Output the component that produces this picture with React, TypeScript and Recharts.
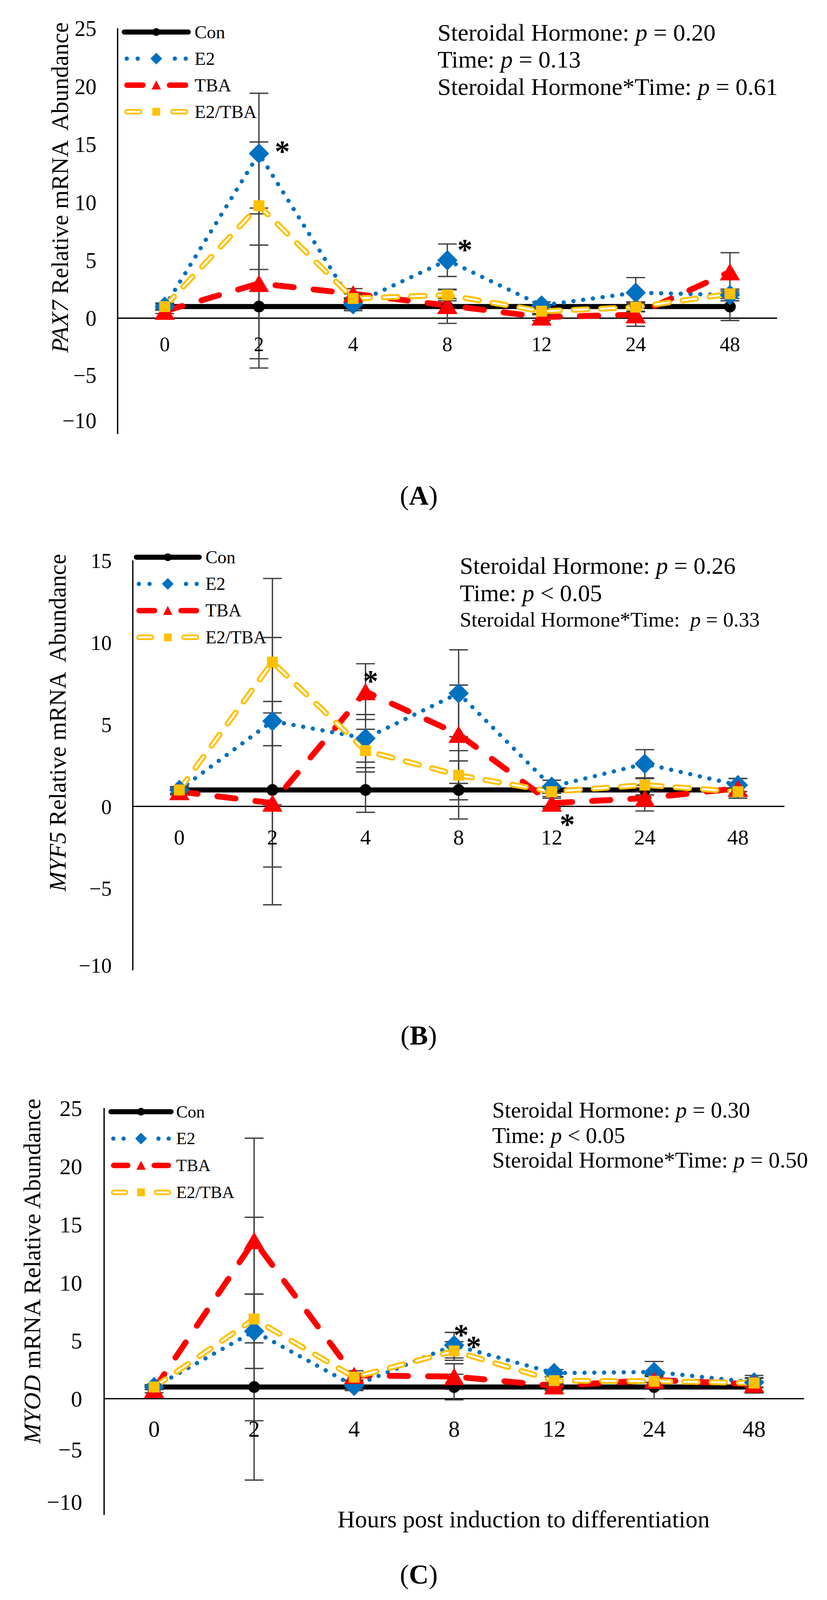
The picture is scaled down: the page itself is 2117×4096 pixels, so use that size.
import React from "react";
import {
  LineChart, Line, XAxis, YAxis, ErrorBar, ReferenceLine, ReferenceDot, Legend,
} from "recharts";

const HOURS = ["0", "2", "4", "8", "12", "24", "48"];

// (A) PAX7
const PAX7_CON = [1, 1, 1, 1, 1, 1, 1];
const PAX7_E2 = [1.0, 14.2, 1.2, 5.0, 1.1, 2.2, 2.0];
const PAX7_TBA = [0.6, 3.0, 2.1, 1.1, 0.1, 0.3, 4.0];
const PAX7_MIX = [1.0, 9.7, 1.7, 2.0, 0.6, 0.95, 2.1];
const PAX7_CON_SE = [0.3, 5.3, 0.2, 1.45, 0.2, 0.4, 1.2];
const PAX7_E2_SE = [0.3, 5.2, 0.55, 1.4, 0.3, 1.3, 0.5];
const PAX7_TBA_SE = [0.2, 6.5, 0.45, 0.6, 0.3, 1.0, 1.65];
const PAX7_MIX_SE = [0.2, 5.5, 0.4, 0.5, 0.3, 0.4, 0.4];
const PAX7_TICKS = [25, 20, 15, 10, 5, 0, -5, -10];
const PAX7_STARS = [{ t: "2", v: 14.6 }, { t: "8", v: 6.1 }];
const PAX7_STATS = [
  ["Steroidal Hormone: ", " = 0.20"],
  ["Time: ", " = 0.13"],
  ["Steroidal Hormone*Time: ", " = 0.61"],
];

// (B) MYF5
const MYF5_CON = [1, 1, 1, 1, 1, 1, 1];
const MYF5_E2 = [1.0, 5.2, 4.15, 6.9, 1.2, 2.6, 1.3];
const MYF5_TBA = [0.9, 0.2, 7.0, 4.4, 0.2, 0.5, 1.1];
const MYF5_MIX = [1.0, 8.8, 3.4, 1.9, 0.9, 1.3, 0.9];
const MYF5_CON_SE = [0.2, 4.7, 1.36, 1.77, 0.2, 0.3, 0.3];
const MYF5_E2_SE = [0.2, 5.1, 1.45, 2.65, 0.4, 0.86, 0.4];
const MYF5_TBA_SE = [0.2, 6.2, 1.7, 3.0, 0.3, 0.78, 0.6];
const MYF5_MIX_SE = [0.2, 5.1, 1.3, 1.5, 0.3, 0.4, 0.4];
const MYF5_TICKS = [15, 10, 5, 0, -5, -10];
const MYF5_STARS = [{ t: "4", v: 7.8 }, { t: "12", v: -0.94 }];
const MYF5_STATS = [
  ["Steroidal Hormone: ", " = 0.26"],
  ["Time: ", " < 0.05"],
  ["Steroidal Hormone*Time:  ", " = 0.33"],
];

// (C) MYOD
const MYOD_CON = [1, 1, 1, 1, 1, 1, 1];
const MYOD_E2 = [1.0, 5.8, 1.1, 4.6, 2.2, 2.3, 1.4];
const MYOD_TBA = [0.8, 13.6, 2.0, 1.9, 1.1, 1.6, 1.25];
const MYOD_MIX = [1.0, 6.85, 1.85, 4.1, 1.55, 1.5, 1.35];
const MYOD_CON_SE = [0.2, 8.0, 0.3, 1.1, 0.3, 1.0, 0.5];
const MYOD_E2_SE = [0.2, 3.2, 0.3, 1.1, 0.3, 0.9, 0.4];
const MYOD_TBA_SE = [0.3, 8.8, 0.4, 1.1, 0.3, 0.5, 0.75];
const MYOD_MIX_SE = [0.2, 8.75, 0.3, 0.8, 0.3, 0.4, 0.4];
const MYOD_TICKS = [25, 20, 15, 10, 5, 0, -5, -10];
const MYOD_STARS = [{ t: "8", v: 5.7 }, { t: "8", v: 4.7 }];
const MYOD_STATS = [
  ["Steroidal Hormone: ", " = 0.30"],
  ["Time: ", " < 0.05"],
  ["Steroidal Hormone*Time: ", " = 0.50"],
];

const SERIES_NAMES = ["Con", "E2", "TBA", "E2/TBA"];

const FONT = "'Liberation Serif', 'Times New Roman', serif";
const W = 2117;
const BLUE = "#0070C0";
const RED = "#FF0000";
const GOLD = "#FFC000";
const BAR = "#404040";

function buildRows(con: number[], e2: number[], tba: number[], mix: number[],
  conSE: number[], e2SE: number[], tbaSE: number[], mixSE: number[]) {
  return HOURS.map((t, i) => ({
    t, con: con[i], e2: e2[i], tba: tba[i], mix: mix[i],
    conSE: conSE[i], e2SE: e2SE[i], tbaSE: tbaSE[i], mixSE: mixSE[i],
  }));
}

const fmtY = (v: number) => (v < 0 ? "\u2212" + Math.abs(v) : String(v));

// marker shapes
const circleDot = (r: number) => (p: any) =>
  <circle key={p.index} cx={p.cx} cy={p.cy} r={r} fill="#000" />;
const diamondDot = (h: number) => (p: any) =>
  <polygon key={p.index} fill={BLUE}
    points={`${p.cx},${p.cy - h} ${p.cx + h},${p.cy} ${p.cx},${p.cy + h} ${p.cx - h},${p.cy}`} />;
const triangleDot = (w: number, h: number) => (p: any) =>
  <polygon key={p.index} fill={RED}
    points={`${p.cx},${p.cy - h / 2} ${p.cx + w / 2},${p.cy + h / 2} ${p.cx - w / 2},${p.cy + h / 2}`} />;
const squareDot = (s: number) => (p: any) =>
  <rect key={p.index} x={p.cx - s / 2} y={p.cy - s / 2} width={s} height={s} fill={GOLD} />;

function LegendBox({ lg }: { lg: any }) {
  const { x1, x2, y0, dy, tx, font } = lg;
  const m = (x1 + x2) / 2;
  const h = (x2 - x1) / 2;
  const ys = [0, 1, 2, 3].map((i) => y0 + i * dy);
  return (
    <svg width={700} height={420} style={{ display: "block", overflow: "visible" }}>
      {/* Con */}
      <line x1={x1} x2={x2} y1={ys[0]} y2={ys[0]} stroke="#000" strokeWidth={13} strokeLinecap="round" />
      <circle cx={m} cy={ys[0]} r={10} fill="#000" />
      {/* E2 */}
      {[-0.92, -0.58, 0.58, 0.92].map((f) => (
        <circle key={f} cx={m + f * h} cy={ys[1]} r={5.5} fill={BLUE} />
      ))}
      <polygon fill={BLUE} points={`${m},${ys[1] - 15} ${m + 15},${ys[1]} ${m},${ys[1] + 15} ${m - 15},${ys[1]}`} />
      {/* TBA */}
      <line x1={x1 + 7} x2={m - 34} y1={ys[2]} y2={ys[2]} stroke={RED} strokeWidth={14} strokeLinecap="round" />
      <line x1={m + 34} x2={x2 - 7} y1={ys[2]} y2={ys[2]} stroke={RED} strokeWidth={14} strokeLinecap="round" />
      <polygon fill={RED} points={`${m},${ys[2] - 12} ${m + 12},${ys[2] + 11} ${m - 12},${ys[2] + 11}`} />
      {/* E2/TBA */}
      {[[x1 + 7, x1 + 0.48 * h], [x2 - 0.48 * h, x2 - 7]].map(([a, b], i) => (
        <g key={i}>
          <line x1={a} x2={b} y1={ys[3]} y2={ys[3]} stroke={GOLD} strokeWidth={14} strokeLinecap="round" />
          <line x1={a} x2={b} y1={ys[3]} y2={ys[3]} stroke="#fff" strokeWidth={5} strokeLinecap="round" />
        </g>
      ))}
      <rect x={m - 10} y={ys[3] - 10} width={20} height={20} fill={GOLD} />
      {SERIES_NAMES.map((n, i) => (
        <text key={n} x={tx} y={ys[i] + 0.33 * font} fontSize={font} fontFamily={FONT} fill="#000">{n}</text>
      ))}
    </svg>
  );
}

type PanelCfg = {
  top: number; height: number;
  l: number; r: number; t: number; b: number;
  domain: [number, number]; ticks: number[];
  rows: any[]; stars: { t: string; v: number }[]; starDx: number[];
  yFont: number; xFont: number; xDy: number; tickGap: number;
  yShift: Record<string, number>;
  lg: any;
};

function Panel({ p }: { p: PanelCfg }) {
  const yAxisW = 120;
  const xAxisH = 10;
  const margin = { top: p.t, left: p.l - yAxisW, right: W - p.r, bottom: p.height - p.b - xAxisH };
  const [lo, hi] = p.domain;
  const zeroY = p.t + (hi / (hi - lo)) * (p.b - p.t);
  const barProps = { width: 24, strokeWidth: 3.4, stroke: BAR, direction: "y" as const };
  return (
    <div style={{ position: "absolute", left: 0, top: p.top }}>
      <LineChart width={W} height={p.height} data={p.rows} margin={margin}>
        <XAxis
          dataKey="t" scale="band" interval={0} axisLine={false} tickLine={false} height={xAxisH}
          tick={(tp: any) => (
            <text key={tp.index} x={tp.x} y={zeroY + p.xDy} textAnchor="middle"
              fontSize={p.xFont} fontFamily={FONT} fill="#000">{tp.payload.value}</text>
          )}
        />
        <YAxis
          type="number" domain={p.domain} ticks={p.ticks} interval={0} allowDataOverflow
          width={yAxisW} axisLine={{ stroke: "#000", strokeWidth: 3.4 }} tickLine={false}
          tickSize={0} tickMargin={p.tickGap}
          tick={(tp: any) => (
            <text key={tp.index} x={tp.x} y={tp.y + (p.yShift[String(tp.payload.value)] ?? 0)}
              dy="0.355em" textAnchor="end" fontSize={p.yFont} fontFamily={FONT} fill="#000">
              {fmtY(tp.payload.value)}
            </text>
          )}
        />
        <ReferenceLine y={0} stroke="#000" strokeWidth={3.4} />
        <Line dataKey="con" type="linear" stroke="#000" strokeWidth={13} strokeLinejoin="round"
          dot={circleDot(15)} activeDot={false} isAnimationActive={false}>
          <ErrorBar dataKey="conSE" {...barProps} />
        </Line>
        <Line dataKey="e2" type="linear" stroke={BLUE} strokeWidth={11} strokeDasharray="0.1 25"
          strokeLinecap="round" dot={diamondDot(26)} activeDot={false} isAnimationActive={false}>
          <ErrorBar dataKey="e2SE" {...barProps} />
        </Line>
        <Line dataKey="tba" type="linear" stroke={RED} strokeWidth={15} strokeDasharray="47 51"
          strokeLinecap="round" dot={triangleDot(52, 44)} activeDot={false} isAnimationActive={false}>
          <ErrorBar dataKey="tbaSE" {...barProps} />
        </Line>
        <Line dataKey="mix" type="linear" stroke={GOLD} strokeWidth={15} strokeDasharray="35 35"
          strokeLinecap="round" dot={false} activeDot={false} isAnimationActive={false} legendType="none">
          <ErrorBar dataKey="mixSE" {...barProps} />
        </Line>
        <Line dataKey="mix" type="linear" stroke="#fff" strokeWidth={5} strokeDasharray="35 35"
          strokeLinecap="round" dot={squareDot(28)} activeDot={false} isAnimationActive={false} legendType="none" />
        {p.stars.map((s, i) => (
          <ReferenceDot key={i} x={s.t} y={s.v} r={0} ifOverflow="visible"
            shape={(sp: any) => (
              <text x={sp.cx + p.starDx[i]} y={sp.cy + 32} textAnchor="middle" fontSize={78}
                fontWeight="bold" fontFamily={FONT} fill="#000">*</text>
            )}
          />
        ))}
        <Legend layout="vertical" align="center" verticalAlign="middle"
          wrapperStyle={{ left: 0, top: 0, width: 700, height: 420 }}
          content={() => <LegendBox lg={p.lg} />} />
      </LineChart>
    </div>
  );
}

const PANELS: PanelCfg[] = [
  {
    top: 0, height: 1200, l: 301.1, r: 1989.1, t: 72.6, b: 1111.3,
    domain: [-10, 25], ticks: PAX7_TICKS,
    rows: buildRows(PAX7_CON, PAX7_E2, PAX7_TBA, PAX7_MIX, PAX7_CON_SE, PAX7_E2_SE, PAX7_TBA_SE, PAX7_MIX_SE),
    stars: PAX7_STARS, starDx: [60, 45],
    yFont: 56, xFont: 52, xDy: 84, tickGap: 54,
    yShift: { "-5": -3, "-10": -35 },
    lg: { x1: 318, x2: 482, y0: 82, dy: 68, tx: 498, font: 47 },
  },
  {
    top: 1350, height: 1250, l: 339.9, r: 2008.1, t: 84.7, b: 1134.1,
    domain: [-10, 15], ticks: MYF5_TICKS,
    rows: buildRows(MYF5_CON, MYF5_E2, MYF5_TBA, MYF5_MIX, MYF5_CON_SE, MYF5_E2_SE, MYF5_TBA_SE, MYF5_MIX_SE),
    stars: MYF5_STARS, starDx: [13, 40],
    yFont: 54, xFont: 55, xDy: 98, tickGap: 54,
    yShift: { "-10": -13 },
    lg: { x1: 349, x2: 510, y0: 76.4, dy: 68.4, tx: 526, font: 46 },
  },
  {
    top: 2750, height: 1250, l: 266.5, r: 2058.4, t: 86.4, b: 1128.3,
    domain: [-10, 25], ticks: MYOD_TICKS,
    rows: buildRows(MYOD_CON, MYOD_E2, MYOD_TBA, MYOD_MIX, MYOD_CON_SE, MYOD_E2_SE, MYOD_TBA_SE, MYOD_MIX_SE),
    stars: MYOD_STARS, starDx: [18, 50],
    yFont: 58, xFont: 59, xDy: 97, tickGap: 56,
    yShift: { "-5": -19, "-10": -34 },
    lg: { x1: 284, x2: 438, y0: 96, dy: 68.8, tx: 451, font: 44 },
  },
];

function Stats({ x, ys, fonts, lines }: { x: number; ys: number[]; fonts: number[]; lines: string[][] }) {
  return (
    <g>
      {lines.map(([a, b], i) => (
        <text key={i} x={x} y={ys[i]} fontSize={fonts[i]} fontFamily={FONT} fill="#000" style={{ whiteSpace: "pre" }}>
          {a}<tspan fontStyle="italic">p</tspan>{b}
        </text>
      ))}
    </g>
  );
}

function YTitle({ x, y, size, gene, rest }: { x: number; y: number; size: number; gene: string; rest: string }) {
  return (
    <text transform={`translate(${x},${y}) rotate(-90)`} textAnchor="middle" fontSize={size}
      fontFamily={FONT} fill="#000" style={{ whiteSpace: "pre" }}>
      <tspan fontStyle="italic">{gene}</tspan>{rest}
    </text>
  );
}

function Caption({ y, letter }: { y: number; letter: string }) {
  return (
    <text x={1072} y={y} textAnchor="middle" fontSize={70} fontFamily={FONT} fill="#000">
      (<tspan fontWeight="bold">{letter}</tspan>)
    </text>
  );
}

export default function App() {
  return (
    <div style={{ position: "absolute", left: 0, top: 0, width: W, height: 4096, background: "#fff" }}>
      {PANELS.map((p, i) => <Panel key={i} p={p} />)}
      <svg width={W} height={4096} style={{ position: "absolute", left: 0, top: 0, pointerEvents: "none" }}>
        <YTitle x={174} y={480} size={61} gene="PAX7" rest=" Relative mRNA  Abundance" />
        <YTitle x={168} y={1850} size={61} gene="MYF5" rest=" Relative mRNA  Abundance" />
        <YTitle x={103} y={3254} size={62} gene="MYOD" rest=" mRNA Relative Abundance" />
        <Stats x={1120} ys={[104, 173, 243]} fonts={[62, 62, 62]} lines={PAX7_STATS} />
        <Stats x={1177} ys={[1469, 1539, 1604]} fonts={[61.5, 61.5, 53.7]} lines={MYF5_STATS} />
        <Stats x={1260} ys={[2861, 2926, 2989]} fonts={[57.5, 57.5, 57.5]} lines={MYOD_STATS} />
        <text x={864} y={3910} fontSize={62} fontFamily={FONT} fill="#000">
          Hours post induction to differentiation
        </text>
        <Caption y={1292} letter="A" />
        <Caption y={2674} letter="B" />
        <Caption y={4054} letter="C" />
      </svg>
    </div>
  );
}
